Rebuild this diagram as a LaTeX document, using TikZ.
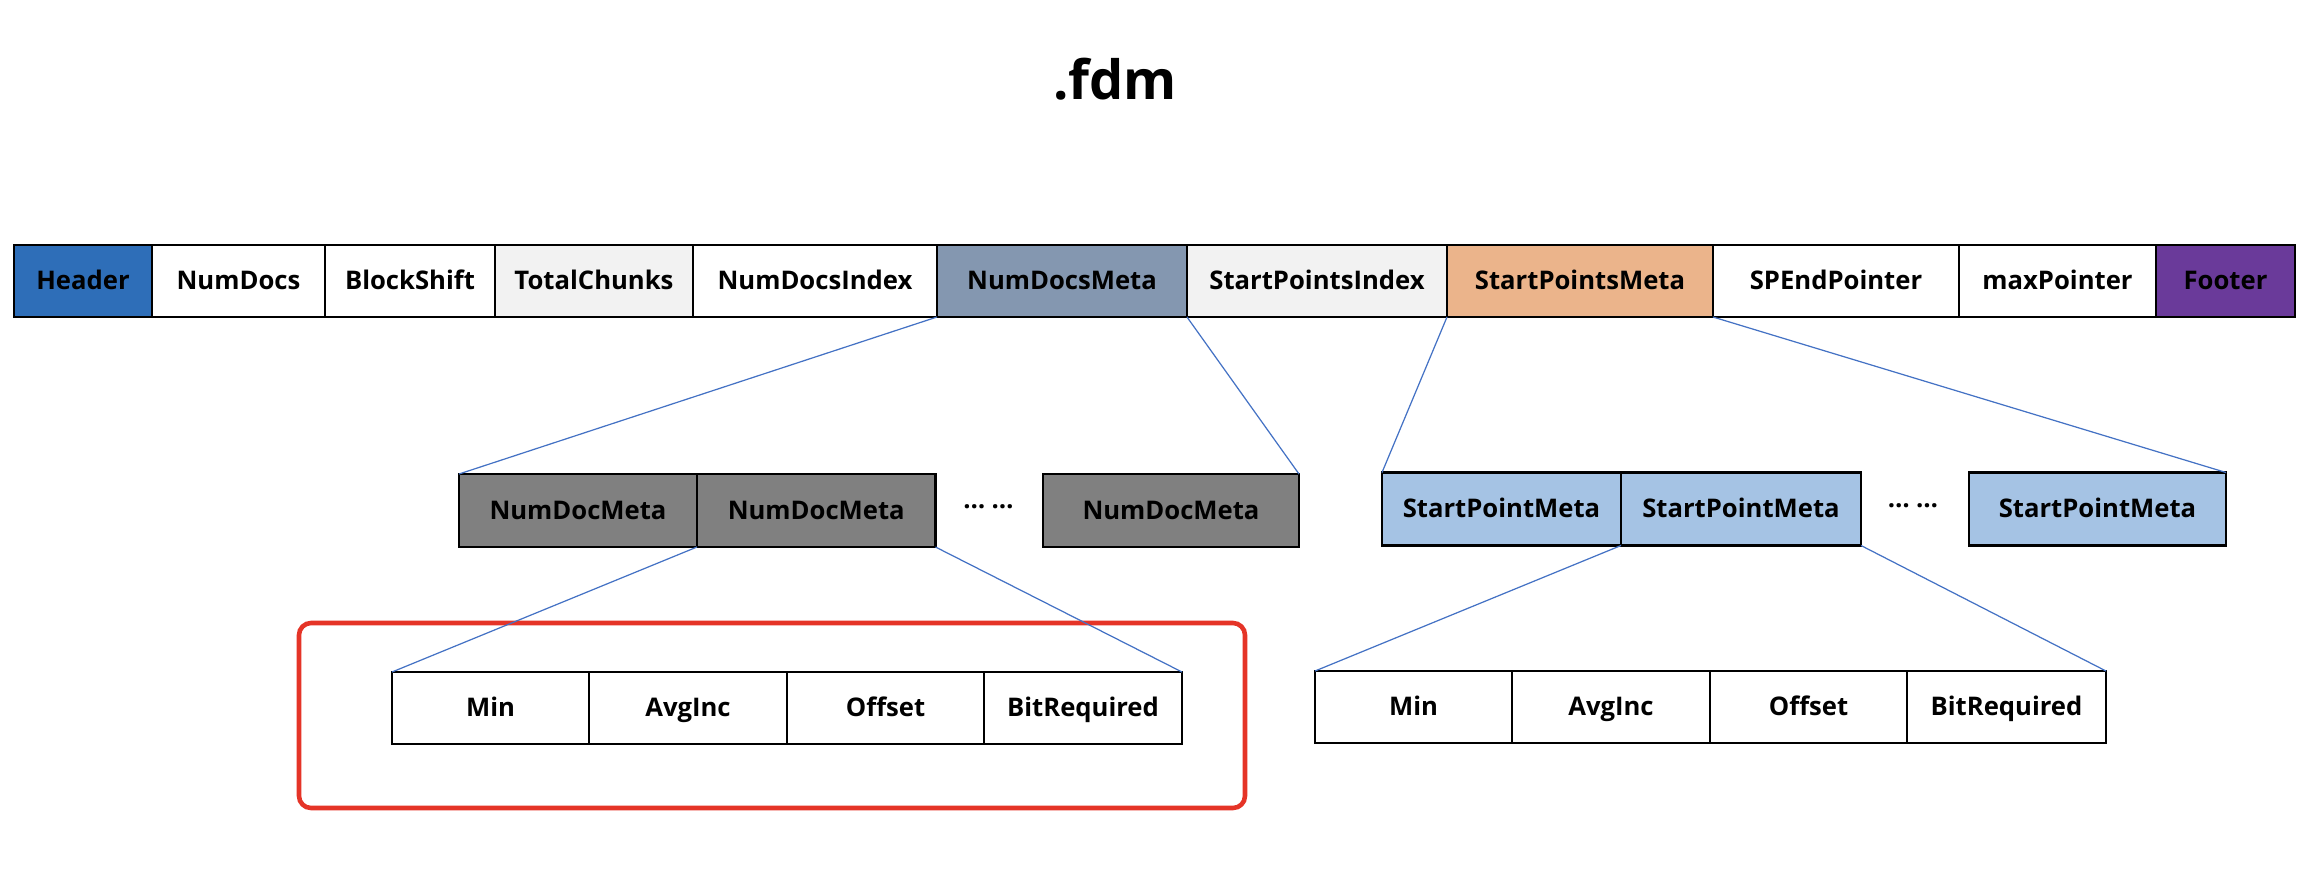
\documentclass[tikz,border=0pt]{standalone}
\usepackage{fontspec}
\setmainfont{Open Sans}
\usepackage{tikz}
\usetikzlibrary{positioning}
\definecolor{hdrblue}{HTML}{2E6EB8}
\definecolor{metagray}{HTML}{8497B0}
\definecolor{paleGray}{HTML}{F2F2F2}
\definecolor{peach}{HTML}{EBB48B}
\definecolor{footpurple}{HTML}{6A3A9A}
\definecolor{docgray}{HTML}{808080}
\definecolor{spblue}{HTML}{A5C3E4}
\definecolor{linkblue}{HTML}{4472C4}
\definecolor{framered}{HTML}{E53427}
\tikzset{
    field/.style={
           rectangle,
           draw=black, line width=0.8pt,
           minimum height=0.72cm,
           inner sep=0pt, outer sep=0pt,
           anchor=west,
           text height=0.72em, text depth=0.22em,
           font=\fontsize{7.3}{8}\selectfont\bfseries,
           text centered,
           },
    link/.style={
           draw=linkblue,
           line width=0.35pt,
           },
    frame/.style={
           draw=framered,
           line width=1.3pt,
           rounded corners=0.12cm,
           },
    dots/.style={
           inner sep=0pt,
           font=\fontsize{7.3}{8}\selectfont\bfseries,
           }
}
\begin{document}
\begin{tikzpicture}
\useasboundingbox (0,0) rectangle (23.02,-8.94);
\node[font=\fontsize{15.4}{18}\selectfont\bfseries, anchor=base] (title) at (11.15,-0.99) {.fdm};
% file layout
\node[field, fill=hdrblue, minimum width=1.38cm] (header) at (0.14,-2.81) {Header};
\node[field, minimum width=1.73cm, right=0pt of header] (numdocs) {NumDocs};
\node[field, minimum width=1.70cm, right=0pt of numdocs] (blockshift) {BlockShift};
\node[field, fill=paleGray, minimum width=1.98cm, right=0pt of blockshift] (chunks) {TotalChunks};
\node[field, minimum width=2.44cm, right=0pt of chunks] (ndindex) {NumDocsIndex};
\node[field, fill=metagray, minimum width=2.50cm, right=0pt of ndindex] (ndmeta) {NumDocsMeta};
\node[field, fill=paleGray, minimum width=2.60cm, right=0pt of ndmeta] (spindex) {StartPointsIndex};
\node[field, fill=peach, minimum width=2.66cm, right=0pt of spindex] (spmeta) {StartPointsMeta};
\node[field, minimum width=2.46cm, right=0pt of spmeta] (spend) {SPEndPointer};
\node[field, minimum width=1.97cm, right=0pt of spend] (maxptr) {maxPointer};
\node[field, fill=footpurple, minimum width=1.39cm, right=0pt of maxptr] (footer) {Footer};
% second level
\node[field, fill=docgray, minimum height=0.73cm, minimum width=2.38cm] (nd1) at (4.59,-5.105) {NumDocMeta};
\node[field, fill=docgray, minimum height=0.73cm, minimum width=2.385cm, right=0pt of nd1] (nd2) {NumDocMeta};
\node[dots] (nddots) at (9.885,-5.10) {\raisebox{0.28em}{…\hspace{0.25em}…}};
\node[field, fill=docgray, minimum height=0.73cm, minimum width=2.56cm] (nd3) at (10.43,-5.105) {NumDocMeta};
\node[field, fill=spblue, minimum height=0.73cm, minimum width=2.39cm] (sp1) at (13.82,-5.09) {StartPointMeta};
\node[field, fill=spblue, minimum height=0.73cm, minimum width=2.40cm, right=0pt of sp1] (sp2) {StartPointMeta};
\node[dots] (spdots) at (19.13,-5.09) {\raisebox{0.28em}{…\hspace{0.25em}…}};
\node[field, fill=spblue, minimum height=0.73cm, minimum width=2.57cm] (sp3) at (19.69,-5.09) {StartPointMeta};
% third level
\node[field, minimum width=1.97cm] (lmin) at (3.92,-7.08) {Min};
\node[field, minimum width=1.98cm, right=0pt of lmin] (lavg) {AvgInc};
\node[field, minimum width=1.97cm, right=0pt of lavg] (loff) {Offset};
\node[field, minimum width=1.98cm, right=0pt of loff] (lbit) {BitRequired};
\node[field, minimum width=1.97cm] (rmin) at (13.15,-7.07) {Min};
\node[field, minimum width=1.98cm, right=0pt of rmin] (ravg) {AvgInc};
\node[field, minimum width=1.97cm, right=0pt of ravg] (roff) {Offset};
\node[field, minimum width=1.99cm, right=0pt of roff] (rbit) {BitRequired};
\draw[frame] (2.99,-6.23) rectangle (12.45,-8.08);
\path (ndmeta.south west) edge[link] (nd1.north west);
\path (ndmeta.south east) edge[link] (nd3.north east);
\path (spmeta.south west) edge[link] (sp1.north west);
\path (spmeta.south east) edge[link] (sp3.north east);
\path (nd2.south west) edge[link] (lmin.north west);
\path (nd2.south east) edge[link] (lbit.north east);
\path (sp2.south west) edge[link] (rmin.north west);
\path (sp2.south east) edge[link] (rbit.north east);
\end{tikzpicture}
\end{document}
